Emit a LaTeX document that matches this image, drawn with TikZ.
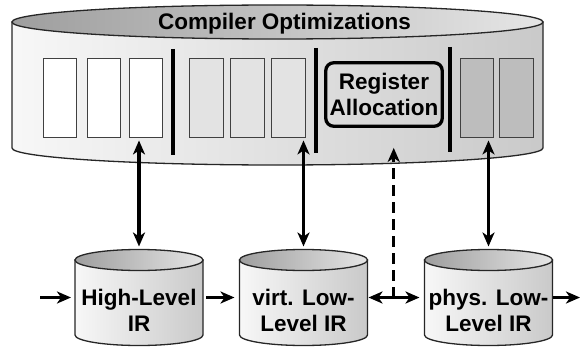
\documentclass[tikz,border=0pt]{standalone}
\usepackage{fontspec}
\setmainfont{Liberation Sans}
\usetikzlibrary{arrows.meta}

\definecolor{lidleft}{gray}{0.62}
\definecolor{lidright}{gray}{0.90}
\definecolor{drumleft}{gray}{0.97}
\definecolor{drumright}{gray}{0.79}
\definecolor{midpass}{gray}{0.89}
\definecolor{latepass}{gray}{0.74}

\tikzset{
  pics/drum/.style n args={3}{code={
    \shadedraw[left color=drumleft, right color=drumright, draw=black!85, line width=1.3pt]
      (-#1,#2) -- (-#1,-#2) arc[start angle=180, end angle=360, x radius=#1, y radius=#3] -- (#1,#2) -- cycle;
    \shadedraw[left color=lidleft, right color=lidright, draw=black!85, line width=1.3pt]
      (0,#2) ellipse[x radius=#1, y radius=#3];
    \coordinate (-top) at (0,#2+#3);
    \coordinate (-w) at (-#1,0);
    \coordinate (-e) at (#1,0);
  }},
  irtext/.style={align=center, font=\bfseries\fontsize{22.5}{25.5}\selectfont, inner sep=0pt},
  pass/.style={shape=rectangle, draw=black!75, line width=0.9pt, minimum width=33.5pt, minimum height=79pt, inner sep=0pt},
  regbox/.style={shape=rectangle, draw, line width=3.3pt, rounded corners=8pt, minimum width=116.5pt, minimum height=63.5pt, irtext},
  sep/.style={line width=3.8pt},
  link/.style={line width=3.5pt, -{Stealth[length=14pt, width=12pt, inset=4pt]}},
  dlink/.style={line width=3.5pt, {Stealth[length=14pt, width=12pt, inset=4pt]}-{Stealth[length=14pt, width=12pt, inset=4pt]}}
}

\begin{document}
\begin{tikzpicture}[x=1pt, y=1pt]
\useasboundingbox (0,0) rectangle (580,346);

\pic (opt) at (277.5,261) {drum={265.5}{63}{17}};
\node [irtext] (title) at (284.5,322) {Compiler Optimizations};

\node [pass, fill=white] (p1) at (60,248.5) {};
\node [pass, fill=white] (p2) at (104,248.5) {};
\node [pass, fill=white] (p3) at (146,248.5) {};
\node [pass, fill=midpass] (p4) at (206.5,248.5) {};
\node [pass, fill=midpass] (p5) at (247.5,248.5) {};
\node [pass, fill=midpass] (p6) at (288.5,248.5) {};
\node [regbox] (ra) at (384,251.5) {Register\\Allocation};
\node [pass, fill=latepass] (p7) at (477,248.5) {};
\node [pass, fill=latepass] (p8) at (516.5,248.5) {};

\draw [sep] (173,297) -- (173,191);
\draw [sep] (316,298) -- (316,193);
\draw [sep] (450,299) -- (450,194);

\pic (hir) at (139,48.5) {drum={64}{37.5}{10.5}};
\pic (vir) at (303.5,48.5) {drum={64}{37.5}{10.5}};
\pic (phy) at (488.5,48.5) {drum={64}{37.5}{10.5}};
\node [irtext] (hirt) at (139,35.5) {High-Level\\IR};
\node [irtext] (virt) at (303.5,35.5) {virt. Low-\\Level IR};
\node [irtext] (phyt) at (488.5,35.5) {phys. Low-\\Level IR};

\coordinate (src) at (40,48.5);
\coordinate (sink) at (580,48.5);

\draw [link, shorten >=4pt] (src) -- (hir-w);
\draw [link, shorten <=3pt, shorten >=5pt] (hir-e) -- (vir-w);
\draw [dlink, shorten <=1pt, shorten >=5pt] (vir-e) -- node [coordinate, pos=0.46] (fork) {} (phy-w);
\draw [link] (phy-e) -- (sink);

\draw [dlink, shorten <=3pt, shorten >=3pt] (hir-top) -- (hir-top |- p3.south);
\draw [dlink, shorten <=3pt, shorten >=3pt] (vir-top) -- (vir-top |- p6.south);
\draw [dlink, shorten <=3pt, shorten >=3pt] (phy-top) -- (phy-top |- p7.south);
\draw [link, dash pattern=on 11pt off 6pt, shorten >=20pt] (fork) -- (fork |- ra.south);
\end{tikzpicture}
\end{document}
